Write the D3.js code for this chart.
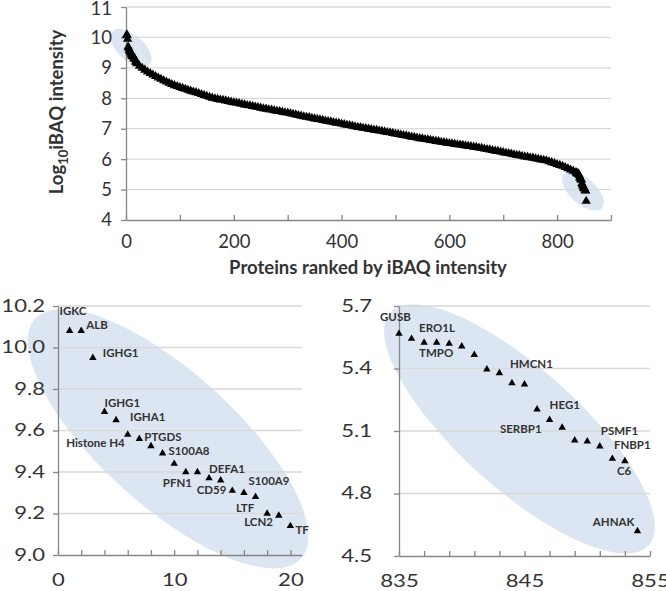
<!DOCTYPE html>
<html>
<head>
<meta charset="utf-8">
<script src="https://cdn.jsdelivr.net/npm/d3@7"></script>
<style>
  body { margin: 0; background: #fff; }
  text { font-family: Lato, "Open Sans", sans-serif; fill: #333; }
</style>
</head>
<body>
<div id="chart"></div>
<script>
// top of the ranking (left zoom panel)
var headRanks = [1, 2, 3, 4, 5, 6, 7, 8, 9, 10, 11, 12, 13, 14, 15, 16, 17, 18, 19, 20];
var headValues = [10.08, 10.08, 9.95, 9.69, 9.65, 9.58, 9.56, 9.525, 9.49, 9.44,
                  9.40, 9.40, 9.37, 9.36, 9.31, 9.30, 9.28, 9.20, 9.19, 9.14];

// middle of the ranking, read every 5 ranks from 25 to 830
var midStart = 25, midStep = 5;
var midValues = [
  9.06, 8.99, 8.93, 8.87, 8.82, 8.77, 8.72, 8.67, 8.63, 8.58,
  8.54, 8.50, 8.46, 8.42, 8.39, 8.36, 8.33, 8.30, 8.27, 8.24,
  8.21, 8.19, 8.16, 8.13, 8.10, 8.07, 8.04, 8.01, 7.99, 7.97,
  7.95, 7.94, 7.92, 7.90, 7.88, 7.86, 7.85, 7.83, 7.81, 7.79,
  7.77, 7.76, 7.74, 7.72, 7.70, 7.68, 7.66, 7.65, 7.63, 7.62,
  7.60, 7.58, 7.57, 7.55, 7.53, 7.52, 7.50, 7.48, 7.46, 7.44,
  7.42, 7.40, 7.38, 7.37, 7.35, 7.33, 7.31, 7.30, 7.28, 7.26,
  7.24, 7.23, 7.21, 7.19, 7.18, 7.16, 7.14, 7.12, 7.11, 7.09,
  7.07, 7.05, 7.04, 7.02, 7.01, 6.99, 6.98, 6.96, 6.95, 6.93,
  6.92, 6.90, 6.88, 6.87, 6.85, 6.83, 6.82, 6.80, 6.78, 6.77,
  6.75, 6.73, 6.72, 6.70, 6.68, 6.67, 6.65, 6.64, 6.62, 6.61,
  6.59, 6.58, 6.56, 6.55, 6.53, 6.52, 6.51, 6.49, 6.48, 6.47,
  6.46, 6.44, 6.43, 6.42, 6.40, 6.39, 6.37, 6.36, 6.34, 6.32,
  6.31, 6.29, 6.27, 6.26, 6.24, 6.22, 6.20, 6.19, 6.17, 6.15,
  6.13, 6.12, 6.10, 6.08, 6.07, 6.05, 6.04, 6.02, 6.00, 5.98,
  5.97, 5.95, 5.92, 5.89, 5.86, 5.83, 5.80, 5.77, 5.73, 5.69,
  5.65, 5.61
];

// bottom of the ranking (right zoom panel)
var tailRanks = [835, 836, 837, 838, 839, 840, 841, 842, 843, 844,
                 845, 846, 847, 848, 849, 850, 851, 852, 853, 854];
var tailValues = [5.567, 5.543, 5.524, 5.524, 5.519, 5.506, 5.466, 5.396, 5.378, 5.330,
                  5.324, 5.204, 5.154, 5.116, 5.055, 5.050, 5.026, 4.967, 4.956, 4.62];

// protein names shown in the zoom panels
var headLabelNames = ["IGKC", "ALB", "IGHG1", "IGHG1", "IGHA1", "Histone H4", "PTGDS", "S100A8",
                      "PFN1", "DEFA1", "CD59", "S100A9", "LTF", "LCN2", "TF"];
var headLabelRanks = [1, 2, 3, 4, 5, 6, 7, 9, 11, 13, 14, 17, 16, 18, 20];
var tailLabelNames = ["GUSB", "ERO1L", "TMPO", "HMCN1", "HEG1", "SERBP1", "PSMF1", "FNBP1", "C6", "AHNAK"];
var tailLabelRanks = [835, 837, 837, 844, 847, 847, 851, 853, 853, 854];

// tick values
var topYTicks = [4, 5, 6, 7, 8, 9, 10, 11];
var topXTicks = [0, 100, 200, 300, 400, 500, 600, 700, 800, 900];
var headYTicks = [9.0, 9.2, 9.4, 9.6, 9.8, 10.0, 10.2];
var headXTicks = [0, 2, 4, 6, 8, 10, 12, 14, 16, 18, 20];
var headXLabels = [0, 10, 20];
var tailYTicks = [4.5, 4.8, 5.1, 5.4, 5.7];
var tailXTicks = [835, 837, 839, 841, 843, 845, 847, 849, 851, 853, 855];
var tailXLabels = [835, 845, 855];

// ---- build point lists
var head = headRanks.map(function(r, i) { return {rank: r, value: headValues[i]}; });
var tail = tailRanks.map(function(r, i) { return {rank: r, value: tailValues[i]}; });
var mid = midValues.map(function(v, i) { return {rank: midStart + i * midStep, value: v}; });
var all = head.concat(mid, tail);

var svg = d3.select("#chart").append("svg")
    .attr("width", 666)
    .attr("height", 591);

var gridColor = "#d9d9d9", axisColor = "#868686", blobColor = "#dce6f2";

function gridlines(g, x, y, ticks) {
  g.append("g").selectAll("line")
    .data(ticks.slice(1))
    .join("line")
      .attr("x1", x.range()[0]).attr("x2", x.range()[1])
      .attr("y1", function(d) { return y(d); })
      .attr("y2", function(d) { return y(d); })
      .attr("stroke", gridColor).attr("stroke-width", 1.3);
}

function styleAxis(a, size) {
  a.selectAll("path, line").attr("stroke", axisColor).attr("stroke-width", 1.3);
  a.selectAll("text").attr("font-size", size).attr("fill", "#333").attr("font-family", "Lato");
}

function blob(g, cx, cy, rx, ry, angle) {
  g.append("ellipse")
    .attr("cx", 0).attr("cy", 0).attr("rx", rx).attr("ry", ry)
    .attr("transform", "translate(" + cx + "," + cy + ") rotate(" + angle + ")")
    .attr("fill", blobColor);
}

function stretch(sel, k) {
  sel.each(function() {
    var len = this.getComputedTextLength();
    if (len > 0) d3.select(this).attr("textLength", len * k).attr("lengthAdjust", "spacingAndGlyphs");
  });
}

var tri = d3.symbol().type(d3.symbolTriangle).size(24);
var triTop = d3.symbol().type(d3.symbolTriangle).size(38);

// ================= top chart =================
var xTop = d3.scaleLinear().domain([0, 900]).range([126, 611]);
var yTop = d3.scaleLinear().domain([4, 11]).range([220, 7]);
var gTop = svg.append("g");

blob(gTop, xTop(9.3), yTop(9.65), 25, 13, 42);
blob(gTop, xTop(848), yTop(4.95), 25.5, 13, 42);
gridlines(gTop, xTop, yTop, topYTicks);

var yaTop = gTop.append("g")
    .attr("transform", "translate(126,0)")
    .call(d3.axisLeft(yTop).tickValues(topYTicks).tickSize(5).tickSizeOuter(0).tickPadding(9)
      .tickFormat(d3.format("d")));
styleAxis(yaTop, 18.5);
yaTop.selectAll(".tick text").filter(function(d) { return d === 11; }).attr("dy", "0.42em");

var xaTop = gTop.append("g")
    .attr("transform", "translate(0,220)")
    .call(d3.axisBottom(xTop).tickValues(topXTicks).tickSize(-5).tickSizeOuter(0).tickPadding(15)
      .tickFormat(function(d) { return d % 200 === 0 && d < 900 ? d : ""; }));
styleAxis(xaTop, 18.5);

gTop.append("g").selectAll("path")
  .data(all)
  .join("path")
    .attr("transform", function(d) { return "translate(" + xTop(d.rank) + "," + yTop(d.value) + ")"; })
    .attr("d", triTop)
    .attr("fill", "#000");

gTop.append("text")
    .attr("x", 368).attr("y", 274)
    .attr("text-anchor", "middle")
    .attr("font-size", 18.5).attr("font-weight", "bold").attr("fill", "#222")
    .text("Proteins ranked by iBAQ intensity");

var yTitle = gTop.append("text")
    .attr("transform", "translate(63,112) rotate(-90)")
    .attr("text-anchor", "middle")
    .attr("font-size", 18.5).attr("font-weight", "bold").attr("fill", "#222");
yTitle.append("tspan").text("Log");
yTitle.append("tspan").attr("font-size", 13).attr("dy", 5).text("10");
yTitle.append("tspan").attr("dy", -5).text("iBAQ intensity");

// ================= zoom panels =================
function zoomPanel(cfg) {
  var g = svg.append("g");
  var x = cfg.x, y = cfg.y;
  blob(g, x(cfg.blob[0]), y(cfg.blob[1]), cfg.blob[2], cfg.blob[3], cfg.blob[4]);
  gridlines(g, x, y, cfg.yTicks);

  var ya = g.append("g")
      .attr("transform", "translate(" + x.range()[0] + ",0)")
      .call(d3.axisLeft(y).tickValues(cfg.yTicks).tickSize(5).tickSizeOuter(0)
        .tickPadding(cfg.yPad).tickFormat(d3.format(".1f")));
  styleAxis(ya, 17);
  stretch(ya.selectAll("text"), 1.3);

  var xa = g.append("g")
      .attr("transform", "translate(0," + y.range()[0] + ")")
      .call(d3.axisBottom(x).tickValues(cfg.xTicks).tickSize(-5).tickSizeOuter(0).tickPadding(19)
        .tickFormat(function(d) { return cfg.xLabels.indexOf(d) >= 0 ? d : ""; }));
  styleAxis(xa, 17);
  stretch(xa.selectAll("text"), 1.3);

  g.append("g").selectAll("path")
    .data(cfg.points)
    .join("path")
      .attr("transform", function(d) { return "translate(" + x(d.rank) + "," + y(d.value) + ")"; })
      .attr("d", tri)
      .attr("fill", "#000");

  var lookup = {};
  cfg.points.forEach(function(p) { lookup[p.rank] = p.value; });
  g.append("g").selectAll("text")
    .data(cfg.names)
    .join("text")
      .attr("x", function(d, i) { return x(cfg.ranks[i]) + cfg.offsets[i][0]; })
      .attr("y", function(d, i) { return y(lookup[cfg.ranks[i]]) + cfg.offsets[i][1]; })
      .attr("text-anchor", function(d, i) { return cfg.offsets[i][2] || "start"; })
      .attr("font-size", 11.5).attr("font-weight", "bold").attr("fill", "#333")
      .text(function(d) { return d; });
}

// label offsets [dx, dy, anchor] relative to the point
var headOffsets = [[-10, -16], [5, -2], [10, -1], [0, -5], [14, 1], [-3, 12, "end"], [5, 2],
                   [6, 2], [-23, 15], [0, -5], [-24, 14], [-7, -12], [-8, 19], [-23, 12], [5, 8]];
var tailOffsets = [[-19, -13], [-5, -11], [-5, 14], [-2, -15], [0, -11], [-8, 13, "end"],
                   [1, -11], [-11, -12], [-8, 14], [-3, -5, "end"]];

zoomPanel({
  x: d3.scaleLinear().domain([0, 21]).range([58, 302]),
  y: d3.scaleLinear().domain([9.0, 10.2]).range([555, 306]),
  yTicks: headYTicks, xTicks: headXTicks, xLabels: headXLabels, yPad: 8,
  blob: [9.47, 9.56, 179, 67, 42],
  points: head, names: headLabelNames, ranks: headLabelRanks, offsets: headOffsets
});

zoomPanel({
  x: d3.scaleLinear().domain([835, 855]).range([399, 650]),
  y: d3.scaleLinear().domain([4.5, 5.7]).range([556, 306]),
  yTicks: tailYTicks, xTicks: tailXTicks, xLabels: tailXLabels, yPad: 22,
  blob: [844.6, 5.11, 174, 60, 42],
  points: tail, names: tailLabelNames, ranks: tailLabelRanks, offsets: tailOffsets
});
</script>
</body>
</html>
